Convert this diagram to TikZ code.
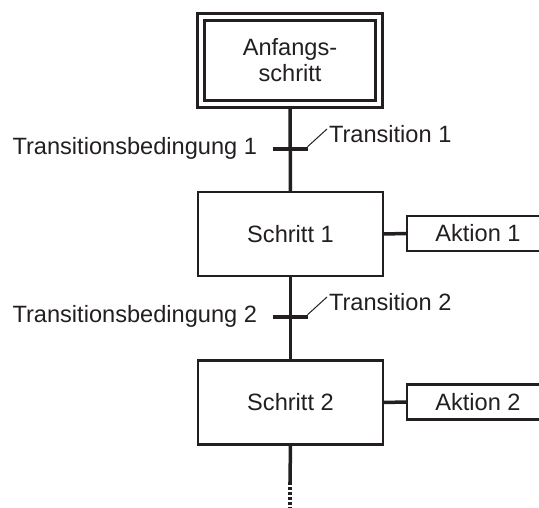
\documentclass[tikz,border=0pt]{standalone}
\usepackage{fontspec}
\setmainfont{Liberation Sans}
\usetikzlibrary{backgrounds}
\definecolor{ink}{RGB}{35,31,32}
\begin{document}
\begin{tikzpicture}[x=1pt,y=-1pt,
  every node/.style={font=\fontsize{23.6}{26}\selectfont, text=ink, inner sep=0pt, outer sep=0pt},
  initbox/.style={draw=ink, double=white, line width=2.5pt, double distance=4.5pt,
    minimum width=178pt, minimum height=87pt, align=center},
  stepbox/.style={draw=ink, fill=white, line width=2.5pt, minimum width=185pt, minimum height=84pt},
  actbox/.style={draw=ink, fill=white, line width=2.5pt, minimum width=142pt, minimum height=35pt},
  transbar/.style={fill=ink, minimum width=35pt, minimum height=4.5pt},
  flow/.style={draw=ink, line width=3.5pt},
  leader/.style={draw=ink, line width=1pt},
  link/.style={draw=ink, line width=3.5pt}]
\useasboundingbox (0,0) rectangle (539,508);
\clip (0,0) rectangle (539,508);

% steps and actions
\node[initbox] (init) at (290,60.5) {Anfangs-\\schritt};
\node[stepbox] (s1) at (290.5,234) {Schritt 1};
\node[actbox]  (a1) at (478,233.5) {Aktion 1};
\node[stepbox] (s2) at (290.5,402.5) {Schritt 2};
\node[actbox]  (a2) at (478,402) {Aktion 2};

% transitions
\node[transbar] (t1) at (290,149) {};
\node[transbar] (t2) at (290,317) {};

% labels
\node[anchor=base east] (c1) at (257,155) {Transitionsbedingung 1};
\node[anchor=base east] (c2) at (257,323) {Transitionsbedingung 2};
\node[anchor=base west] (n1) at (329,143) {Transition 1};
\node[anchor=base west] (n2) at (329,311) {Transition 2};
\coordinate (l1) at (327,129);
\coordinate (l2) at (327,297);
\draw[leader] (t1.north east) -- (l1);
\draw[leader] (t2.north east) -- (l2);

% open end of the chain
\coordinate (e1) at (290,482);
\coordinate (e2) at (290,508);

\begin{scope}[on background layer]
  \draw[flow] (init.south) -- (s1.north);
  \draw[flow] (s1.south) -- (s2.north);
  \draw[flow] (s2.south) -- (e1);
  \draw[flow, dash pattern=on 3pt off 2pt] (e1) -- (e2);
  \draw[link] (s1.east) -- (a1.west);
  \draw[link] (s2.east) -- (a2.west);
\end{scope}
\end{tikzpicture}
\end{document}
